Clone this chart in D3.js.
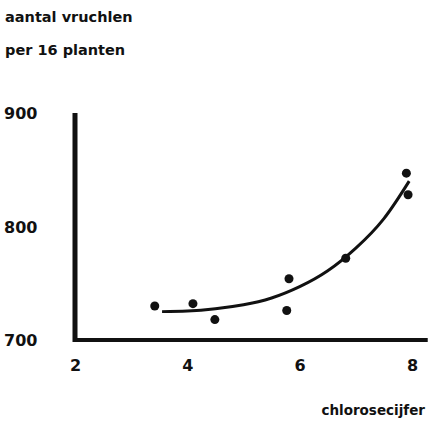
<!DOCTYPE html>
<html>
<head>
<meta charset="utf-8">
<script src="https://cdn.jsdelivr.net/npm/d3@7"></script>
<style>
  body { margin: 0; background: #fff; }
  text { font-family: "DejaVu Sans", sans-serif; font-weight: bold; fill: #111; }
</style>
</head>
<body>
<svg id="chart" width="431" height="424"></svg>
<script>
const width = 431;
const height = 424;

// measured points (chlorosecijfer, aantal vruchten)
const pointX = [3.42, 4.1, 4.49, 5.77, 5.81, 6.82, 7.9, 7.93];
const pointY = [730, 732, 718, 726, 754, 772, 847, 828];

// fitted curve
const curveX = [3.55, 4, 4.5, 5, 5.5, 6, 6.5, 7, 7.5, 7.95];
const curveY = [725, 725.5, 727.5, 731, 737, 747, 761, 781, 807, 840];

const xTicks = [2, 4, 6, 8];
const yTicks = [700, 800, 900];

const svg = d3.select("#chart");

const x = d3.scaleLinear().domain([2, 8]).range([75, 412]);
const y = d3.scaleLinear().domain([700, 900]).range([340, 113]);

// axes lines
svg.append("line")
    .attr("x1", x(2)).attr("x2", x(2))
    .attr("y1", y(900)).attr("y2", y(700) + 2)
    .attr("stroke", "#111").attr("stroke-width", 5);
svg.append("line")
    .attr("x1", x(2) - 2).attr("x2", x(8.28))
    .attr("y1", y(700)).attr("y2", y(700))
    .attr("stroke", "#111").attr("stroke-width", 4);

// tick labels
const xAxis = svg.append("g")
    .attr("transform", `translate(0, ${y(700) + 28})`)
    .call(d3.axisBottom(x).tickValues(xTicks).tickSize(0).tickFormat(d3.format("d")));
xAxis.select(".domain").remove();
xAxis.selectAll("text").attr("dy", "0").attr("font-size", 16)
    .style("font-family", "DejaVu Sans").style("font-weight", "bold");

const yAxis = svg.append("g")
    .attr("transform", "translate(4, 0)")
    .call(d3.axisLeft(y).tickValues(yTicks).tickSize(0).tickFormat(d3.format("d")));
yAxis.select(".domain").remove();
yAxis.selectAll("text").attr("text-anchor", "start").attr("x", 0).attr("dy", "0.35em")
    .attr("font-size", 16)
    .style("font-family", "DejaVu Sans").style("font-weight", "bold");

// curve
const curveData = curveX.map((d, i) => [d, curveY[i]]);
svg.append("path")
    .datum(curveData)
    .attr("fill", "none")
    .attr("stroke", "#111")
    .attr("stroke-width", 3)
    .attr("d", d3.line().x(d => x(d[0])).y(d => y(d[1])).curve(d3.curveNatural));

// points
svg.selectAll("circle.pt")
    .data(pointX.map((d, i) => [d, pointY[i]]))
    .enter()
    .append("circle")
        .attr("class", "pt")
        .attr("cx", d => x(d[0]))
        .attr("cy", d => y(d[1]))
        .attr("r", 4.5)
        .attr("fill", "#111");

// titles
svg.append("text").attr("x", 5).attr("y", 22).attr("font-size", 14.5).text("aantal vruchlen");
svg.append("text").attr("x", 5).attr("y", 55).attr("font-size", 14.5).text("per 16 planten");
svg.append("text").attr("x", 425).attr("y", 415).attr("font-size", 13.5)
    .attr("text-anchor", "end").text("chlorosecijfer");
</script>
</body>
</html>
